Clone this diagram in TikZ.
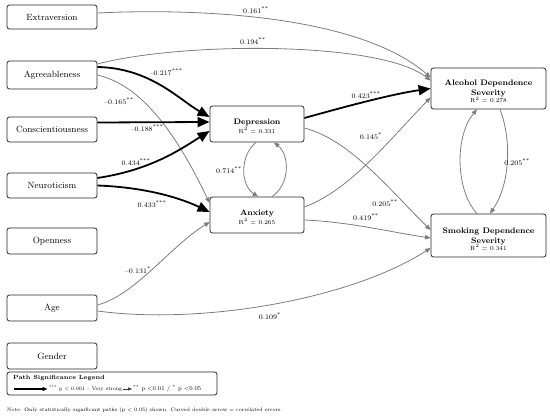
\documentclass[tikz,border=0pt]{standalone}
\usepackage{graphicx}
\usetikzlibrary{arrows.meta}
\definecolor{pathgray}{RGB}{125,125,125}
\tikzset{
  box/.style={draw=black!85, line width=0.8pt, rounded corners=2.5pt, fill=white, inner sep=0pt, align=center},
  sidebox/.style={box, minimum width=90pt, font=\fontsize{9}{10}\selectfont},
  boxtext/.style={inner sep=0pt, align=center, font=\fontsize{6}{6.5}\selectfont},
  strongpath/.style={draw=black, line width=1.8pt, -{Triangle[length=12pt,width=10pt]}},
  weakpath/.style={draw=pathgray, line width=0.8pt, -{Triangle[length=5.5pt,width=4.5pt]}},
  lab/.style={font=\fontsize{7}{8}\selectfont, inner sep=0pt},
  legtext/.style={anchor=west, inner sep=0pt, font=\fontsize{6.5}{7}\selectfont},
}
\newcommand{\st}[1]{\textsuperscript{#1}}
\newcommand{\ttlf}{\fontsize{8}{9}\selectfont\bfseries}
\begin{document}
\begin{tikzpicture}[x=1pt,y=1pt]
\useasboundingbox (0,0) rectangle (550,-419);

% predictor boxes
\node[sidebox, minimum height=24pt] (ext) at (52,-17) {Extraversion};
\node[sidebox, minimum height=28pt] (agr) at (52,-75) {Agreeableness};
\node[sidebox, minimum height=25pt] (con) at (52,-129.5) {Conscientiousness};
\node[sidebox, minimum height=25pt] (neu) at (52,-185.5) {Neuroticism};
\node[sidebox, minimum height=26pt] (ope) at (52,-241) {Openness};
\node[sidebox, minimum height=26pt] (age) at (52,-308) {Age};
\node[sidebox, minimum height=26pt] (gen) at (52,-356) {Gender};

% mediators and outcomes
\node[box, minimum width=94pt, minimum height=36pt] (dep) at (257,-124) {};
\node[boxtext] (depT) at (257,-126) {{\ttlf Depression}\\[1pt]R$^2$ = 0.331};
\node[box, minimum width=94pt, minimum height=36pt] (anx) at (257,-215) {};
\node[boxtext] (anxT) at (257,-217) {{\ttlf Anxiety}\\[1pt]R$^2$ = 0.265};
\node[box, minimum width=115pt, minimum height=41pt] (alc) at (488.5,-88.5) {};
\node[boxtext] (alcT) at (488.5,-91.5)
  {{\ttlf Alcohol Dependence}\\[2pt]{\ttlf Severity}\\[-1.5pt]R$^2$ = 0.278};
\node[box, minimum width=115pt, minimum height=43pt] (smk) at (488.5,-235.5) {};
\node[boxtext] (smkT) at (488.5,-239)
  {{\ttlf Smoking Dependence}\\[2pt]{\ttlf Severity}\\[-1.5pt]R$^2$ = 0.341};

% paths
\draw[weakpath] ([yshift=4pt]ext.east) .. controls +(103,5) and +(-71,62) .. ([yshift=11pt]alc.west);
\draw[weakpath] ([yshift=11pt]agr.east) .. controls +(83,22) and +(-51,40) .. ([yshift=8pt]alc.west);
\draw[strongpath] ([yshift=8pt]agr.east) .. controls +(53,-1) and +(-30,17) .. ([yshift=7pt]dep.west);
\draw[weakpath] (agr.east) .. controls +(43,-10) and +(-35,73) .. ([yshift=12pt]anx.west);
\draw[strongpath] ([yshift=7pt]con.east) -- ([yshift=2pt]dep.west);
\draw[strongpath] ([yshift=7.5pt]neu.east) .. controls +(53,8) and +(-30,-19) .. ([yshift=-7pt]dep.west);
\draw[strongpath] (neu.east) .. controls +(53,-2) and +(-25,12) .. ([yshift=3pt]anx.west);
\draw[weakpath] ([yshift=3pt]age.east) .. controls +(38,10) and +(-40,-25) .. ([yshift=-7pt]anx.west);
\draw[weakpath] ([yshift=-3pt]age.east) .. controls +(103,-14) and +(-81,-52) .. ([yshift=-12.5pt]smk.west);
\draw[strongpath] ([yshift=6pt]dep.east) .. controls +(36,10) and +(-41,-6) .. (alc.west);
\draw[weakpath] ([yshift=8pt]anx.east) .. controls +(46,17) and +(-41,-42) .. ([yshift=-9pt]alc.west);
\draw[weakpath] ([yshift=-4pt]dep.east) .. controls +(46,-12) and +(-41,40) .. ([yshift=5.5pt]smk.west);
\draw[weakpath] ([yshift=-5pt]anx.east) .. controls +(46,-2) and +(-41,6) .. ([yshift=-2.5pt]smk.west);

% correlated errors
\draw[weakpath] ([xshift=-1pt]dep.south) .. controls +(-16,-13) and +(-18,12) .. ([xshift=1pt]anx.north);
\draw[weakpath] ([xshift=15pt]anx.north) .. controls +(18,12) and +(16,-13) .. ([xshift=17pt]dep.south);
\draw[weakpath] ([xshift=-11.5pt]smk.north) .. controls +(-22,24) and +(-22,-26) .. ([xshift=-11.5pt]alc.south);
\draw[weakpath] ([xshift=11.5pt]alc.south) .. controls +(12,-31) and +(20,29) .. ([xshift=1.5pt]smk.north);

% path labels
\node[lab] (l1) at (256,-10) {0.161\st{**}};
\node[lab] (l2) at (253,-41) {0.194\st{**}};
\node[lab] (l3) at (166,-72) {–0.217\st{***}};
\node[lab] (l4) at (119,-101) {–0.165\st{**}};
\node[lab] (l5) at (147,-128.5) {–0.188\st{***}};
\node[lab] (l6) at (136,-162) {0.434\st{***}};
\node[lab] (l7) at (152,-204) {0.433\st{***}};
\node[lab] (l8) at (229,-170) {0.714\st{**}};
\node[lab] (l9) at (138,-270) {–0.131\st{*}};
\node[lab] (l10) at (270,-316) {0.109\st{*}};
\node[lab] (l11) at (366,-95) {0.423\st{***}};
\node[lab] (l12) at (371,-136) {0.145\st{*}};
\node[lab] (l13) at (385,-203) {0.205\st{**}};
\node[lab] (l14) at (366,-217) {0.419\st{**}};
\node[lab] (l15) at (517,-162) {0.205\st{**}};

% legend
\node[box, minimum width=210pt, minimum height=23pt] (leg) at (112,-383.5) {};
\node[anchor=west, inner sep=0pt, font=\fontsize{6}{7}\selectfont\bfseries] (legt) at (13,-378) {Path Significance Legend};
\coordinate (legs) at (14,-389);
\node[legtext] (lega) at (49,-389) {\resizebox{73pt}{!}{\st{***} p < 0.001 – Very strong}};
\node[legtext] (legb) at (133,-389) {\resizebox{68pt}{!}{\st{**} p <0.01 / \st{*} p <0.05}};
\draw[draw=black, line width=1.1pt, -{Triangle[length=5pt,width=4pt]}] (legs) -- ([xshift=-1.5pt]lega.west);
\draw[draw=black!80, line width=0.6pt, -{Triangle[length=4pt,width=3pt]}] ([xshift=0.5pt]lega.east) -- ([xshift=-1pt]legb.west);

% note
\node[anchor=west, inner sep=0pt, font=\fontsize{6}{7}\selectfont] (note) at (7,-410)
  {\resizebox{275pt}{!}{Note: Only statistically significant paths (p < 0.05) shown. Curved double arrow = correlated errors.}};
\end{tikzpicture}
\end{document}
